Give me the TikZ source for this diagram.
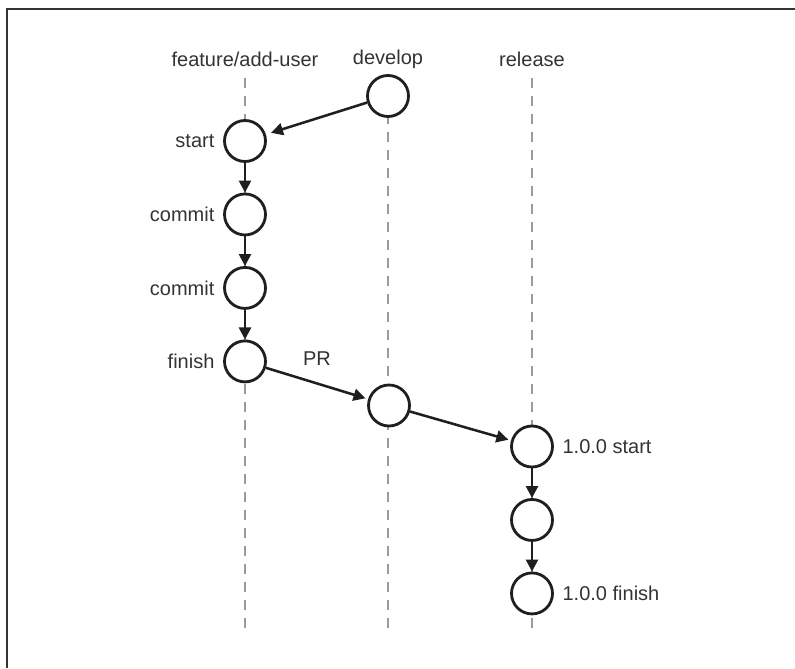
\documentclass[tikz,border=0pt]{standalone}
\usepackage{fontspec}
\setmainfont{Liberation Sans}
\usepackage{xcolor}
\usetikzlibrary{positioning,arrows.meta}

\definecolor{inkgray}{HTML}{333333}
\definecolor{lanegray}{HTML}{9A9A9A}

\begin{document}
\begin{tikzpicture}[
    x=0.75pt, y=0.75pt,
    on grid,
    node distance=55.1pt,
    font=\fontsize{15}{17}\selectfont,
    commit/.style={
        draw=black!88,
        circle,
        fill=white,
        line width=2.1pt,
        minimum size=30.75pt,
        inner sep=0pt
    },
    tag/.style={text=inkgray, label distance=3pt},
    lane/.style={lanegray, line width=1.7pt, dash pattern=on 7.5pt off 6pt},
    arrow/.style={-{Triangle[length=9pt,width=9pt]}, line width=1.9pt, draw=black!88, fill=black!88}
]

\useasboundingbox (0,0) rectangle (795,668);
\draw[inkgray, line width=1.1pt] (7,0) -- (7,659) -- (795,659);

% branch headers
\node[text=inkgray] (feathead) at (245,609) {feature/add-user};
\node[text=inkgray] (devhead) at (388,609) {develop};
\node[text=inkgray] (relhead) at (532,609) {release};

% lanes
\coordinate (feattop) at (245,590);
\coordinate (featbot) at (245,36);
\coordinate (devtop) at (388,590);
\coordinate (devbot) at (388,36);
\coordinate (reltop) at (532,590);
\coordinate (relbot) at (532,36);
\draw[lane] (feattop) -- (featbot);
\draw[lane] (devtop) -- (devbot);
\draw[lane] (reltop) -- (relbot);

% develop
\node[commit] (dev1) at (388,572) {};
\node[commit] (dev2) at (389,262.5) {};

% feature/add-user
\node[commit, label={[tag]left:start}] (start) at (245,527) {};
\node[commit, label={[tag]left:commit}, below=of start] (commit1) {};
\node[commit, label={[tag]left:commit}, below=of commit1] (commit2) {};
\node[commit, label={[tag]left:finish}, below=of commit2] (finish) {};

% release
\node[commit, label={[tag]right:1.0.0 start}] (rel1) at (532,221.5) {};
\node[commit, below=of rel1] (rel2) {};
\node[commit, label={[tag]right:1.0.0 finish}, below=of rel2] (rel3) {};

\draw[arrow, shorten >=4pt] (dev1) -- (start);
\draw[arrow] (start) -- (commit1);
\draw[arrow] (commit1) -- (commit2);
\draw[arrow] (commit2) -- (finish);
\draw[arrow, shorten >=2pt] (finish) -- node[above=9pt, text=inkgray] {PR} (dev2);
\draw[arrow, shorten >=2pt] (dev2) -- (rel1);
\draw[arrow] (rel1) -- (rel2);
\draw[arrow] (rel2) -- (rel3);

\end{tikzpicture}
\end{document}
